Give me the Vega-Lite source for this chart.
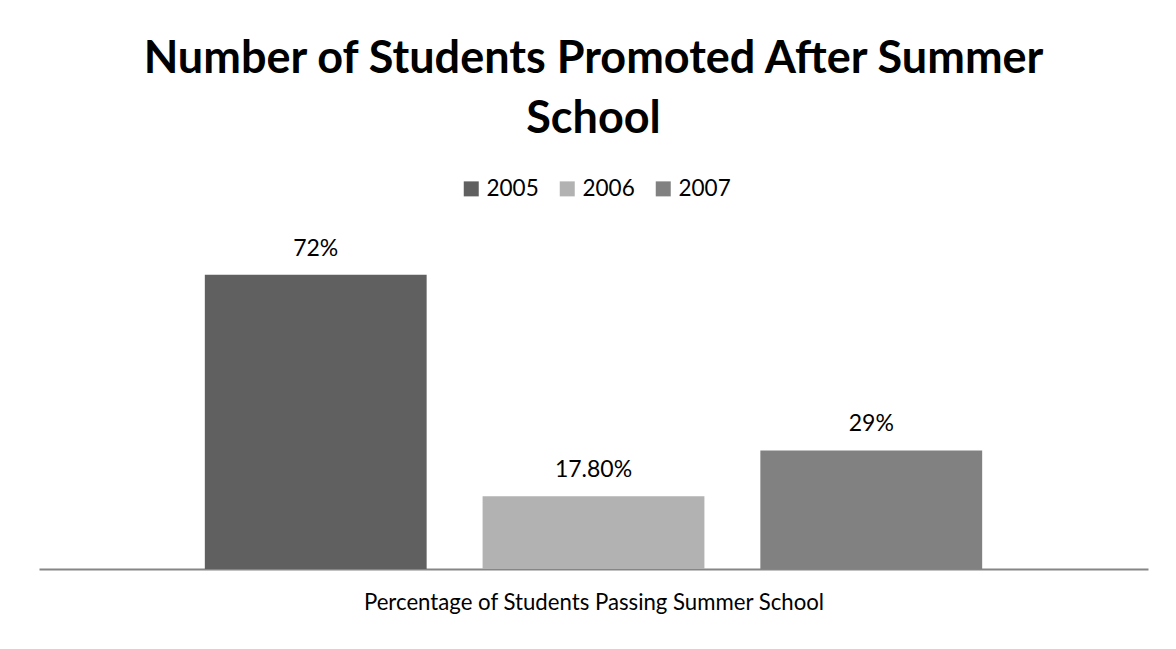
{
  "$schema": "https://vega.github.io/schema/vega-lite/v6.json",
  "autosize": "none",
  "width": 1109,
  "height": 327,
  "padding": {"left": 39, "top": 242, "right": 28, "bottom": 80},
  "background": "white",
  "title": {
    "text": ["Number of Students Promoted After Summer", "School"],
    "font": "Lato",
    "fontSize": 45,
    "fontWeight": "bold",
    "color": "black",
    "lineHeight": 60,
    "anchor": "middle",
    "frame": "group",
    "offset": 36
  },
  "data": {
    "values": [
      {"year": "2005", "pct": 72, "label": "72%"},
      {"year": "2006", "pct": 17.8, "label": "17.80%"},
      {"year": "2007", "pct": 29, "label": "29%"}
    ]
  },
  "encoding": {
    "x": {
      "field": "year",
      "type": "nominal",
      "sort": ["2005", "2006", "2007"],
      "scale": {"paddingInner": 0.2014, "paddingOuter": 0.597},
      "axis": {
        "title": "Percentage of Students Passing Summer School",
        "labels": false,
        "ticks": false,
        "grid": false,
        "domain": true,
        "domainColor": "#868686",
        "domainWidth": 2,
        "titleFont": "Lato",
        "titleFontSize": 22.2,
        "titleFontWeight": "normal",
        "titleColor": "black",
        "titlePadding": 22
      }
    },
    "y": {
      "field": "pct",
      "type": "quantitative",
      "scale": {"domain": [0, 80], "nice": false},
      "axis": null
    }
  },
  "layer": [
    {
      "mark": {"type": "bar"},
      "encoding": {
        "color": {
          "field": "year",
          "type": "nominal",
          "scale": {"domain": ["2005", "2006", "2007"], "range": ["#606060", "#b2b2b2", "#818181"]},
          "legend": {
            "title": null,
            "orient": "none",
            "direction": "horizontal",
            "legendX": 421,
            "legendY": -64.5,
            "padding": 0,
            "symbolType": "square",
            "symbolSize": 225,
            "symbolStrokeWidth": 0,
            "labelFont": "Lato",
            "labelFontSize": 22.5,
            "labelColor": "black",
            "labelOffset": 4,
            "columnPadding": 17
          }
        }
      }
    },
    {
      "mark": {"type": "text", "baseline": "alphabetic", "dy": -19, "font": "Lato", "fontSize": 23, "color": "black"},
      "encoding": {"text": {"field": "label"}}
    }
  ],
  "config": {"view": {"stroke": null}}
}
